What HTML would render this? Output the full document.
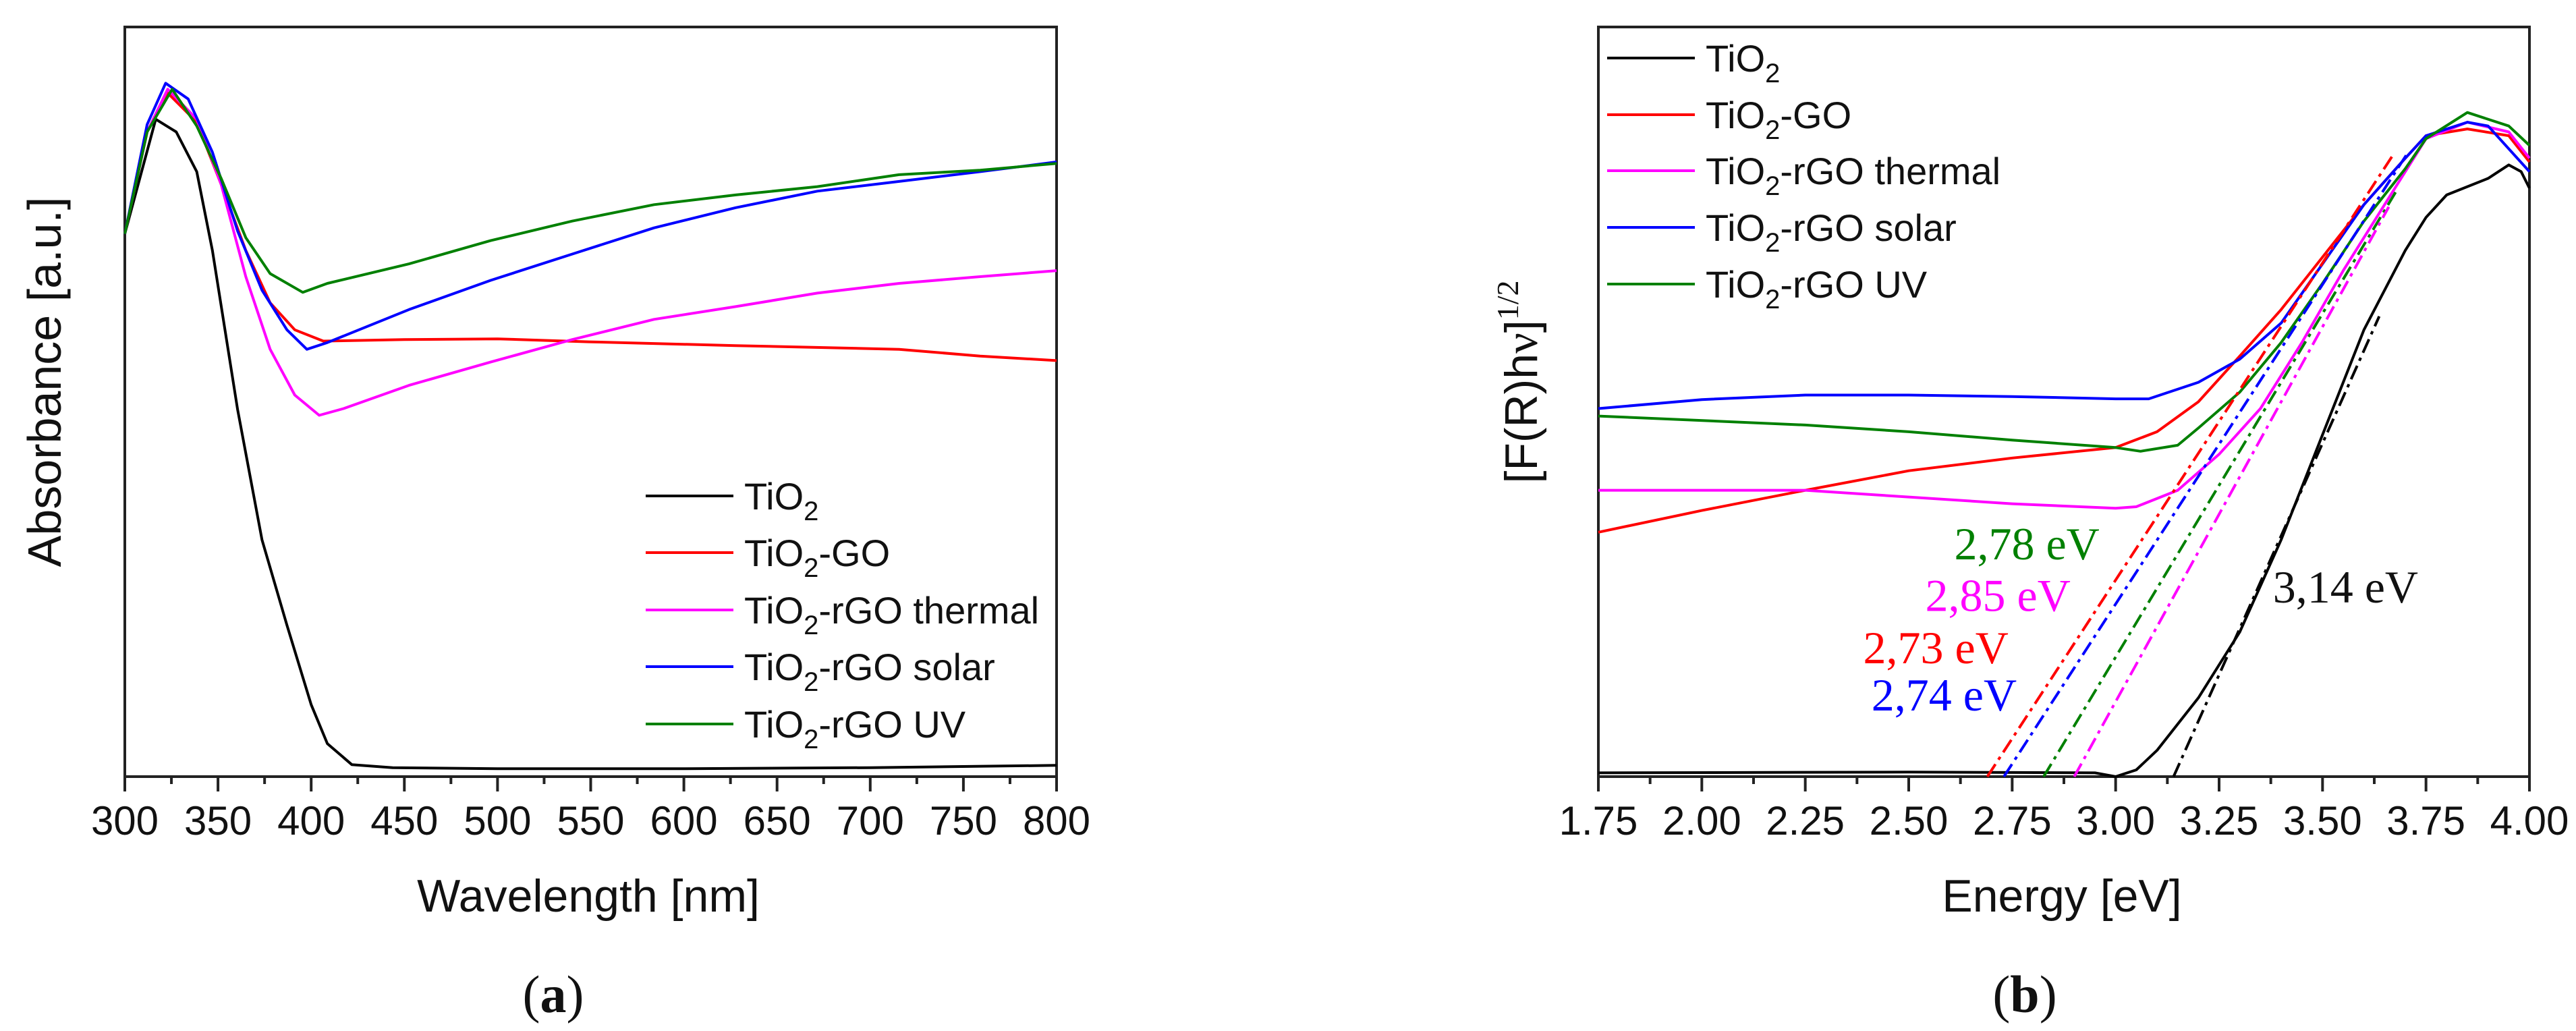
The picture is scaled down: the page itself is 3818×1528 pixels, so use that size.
<!DOCTYPE html>
<html><head><meta charset="utf-8"><style>
html,body{margin:0;padding:0;background:#fff;}
svg{display:block;font-family:"Liberation Sans",Arial,sans-serif;}
</style></head><body>
<svg id="fig" width="3818" height="1528" viewBox="0 0 3818 1528" xmlns="http://www.w3.org/2000/svg"></svg>
<script>
// ---------- Panel (a) data ----------
const aTicks = [300,350,400,450,500,550,600,650,700,750,800];
const aTiO2_x = [300,316.6,327.6,338.6,347,360.5,373.6,387,400,408.7,421.8,443.7,500,600,700,800];
const aTiO2_y = [72.4,87.7,86,80.7,70.2,49,31.6,20.2,9.6,4.4,1.6,1.2,1.05,1.05,1.2,1.5];
const aGO_x = [300,312,323,338.6,351.7,364.9,378,391.2,406.5,450,500,548.9,627.8,715.5,759,800];
const aGO_y = [72.4,86,91.2,87.3,79,70.2,63.2,59.6,58.1,58.3,58.4,58,57.5,57,56.1,55.5];
const aTh_x = [300,312,323,338.6,351.7,364.9,378,391.2,404.3,417.4,452.5,496.3,540,584,627.8,671.6,715.5,759,800];
const aTh_y = [72.4,86,91.7,87.7,79,66.7,57,50.9,48.2,49.1,52.2,55.3,58.3,61,62.7,64.5,65.8,66.7,67.5];
const aSol_x = [300,312,321.9,334,347,360.5,373.6,387,397.7,408.7,452.5,496.3,540,584,627.8,671.6,715.5,759,800];
const aSol_y = [72.4,87,92.5,90.4,83.3,72.8,64.9,59.6,57,57.9,62.3,66.2,69.7,73.2,75.9,78.1,79.4,80.7,82];
const aUV_x = [300,312,325.4,338.6,351.7,364.9,378,395.5,408.7,452.5,496.3,540,584,627.8,671.6,715.5,759,800];
const aUV_y = [72.4,86,91.7,86.8,79.8,71.9,67.1,64.6,65.8,68.4,71.5,74.1,76.3,77.6,78.7,80.3,80.9,81.8];

// ---------- Panel (b) data ----------
const bTicks = [1.75,2.00,2.25,2.50,2.75,3.00,3.25,3.50,3.75,4.00];
const bTiO2_x = [1.75,2.5,2.95,3.0,3.05,3.1,3.2,3.3,3.4,3.5,3.6,3.7,3.75,3.8,3.9,3.95,3.98,4.0];
const bTiO2_y = [0.5,0.6,0.5,0,0.9,3.5,10.5,19.3,31.6,45.6,59.6,70.2,74.6,77.6,79.8,81.6,80.7,78.5];
const bGO_x = [1.75,2.0,2.25,2.5,2.75,3.0,3.1,3.2,3.3,3.4,3.5,3.6,3.7,3.75,3.85,3.95,4.0];
const bGO_y = [32.6,35.5,38.2,40.8,42.5,43.9,46,50,56.1,62.3,69.3,76.3,82.5,85.5,86.4,85.5,82];
const bTh_x = [1.75,2.25,2.5,2.75,3.0,3.05,3.15,3.25,3.35,3.45,3.55,3.65,3.75,3.85,3.95,4.0];
const bTh_y = [38.2,38.2,37.3,36.4,35.8,36,38.2,43,49.1,57.9,67.5,76.3,85.1,87.3,86,82.5];
const bSol_x = [1.75,2.0,2.25,2.5,2.75,3.0,3.08,3.2,3.3,3.4,3.5,3.6,3.7,3.75,3.85,3.9,4.0];
const bSol_y = [49.1,50.3,50.9,50.9,50.7,50.4,50.4,52.6,55.7,60.5,68.4,76.3,82.5,85.5,87.3,86.8,80.7];
const bUV_x = [1.75,2.25,2.5,2.75,3.0,3.06,3.15,3.2,3.3,3.4,3.5,3.6,3.7,3.75,3.85,3.95,4.0];
const bUV_y = [48.1,46.9,46,44.9,43.9,43.4,44.2,46.5,51.3,57.9,65.8,74.1,81.1,85.1,88.6,86.8,84.2];
// tangent lines: [x0,y0,x1,y1]
const tanTiO2 = [3.14,0,3.637,61.4];
const tanGO = [2.69,0,3.67,82.9];
const tanSol = [2.73,0,3.707,83.3];
const tanUV = [2.826,0,3.677,78];
const tanTh = [2.90,0,3.66,76];
const gapLabels = ["2,78 eV","2,85 eV","2,73 eV","2,74 eV","3,14 eV"];
const gapLabelX = [2.61,2.54,2.39,2.41,3.38];
const gapLabelY = [29,22.1,15.1,8.8,23.2];

const NS="http://www.w3.org/2000/svg";
const svg=document.getElementById('fig');
function mk(tag,attrs,parent){const e=document.createElementNS(NS,tag);for(const k in attrs)e.setAttribute(k,attrs[k]);(parent||svg).appendChild(e);return e;}

const A={x0:185,x1:1566,y0:1151,y1:40,xmin:300,xmax:800};
const B={x0:2369,x1:3749,y0:1151,y1:40,xmin:1.75,xmax:4.0};
function sx(P,v){return P.x0+(v-P.xmin)/(P.xmax-P.xmin)*(P.x1-P.x0);}
function sy(P,v){return P.y0-(v/100)*(P.y0-P.y1);}

function drawFrame(P,ticks,fmt,name){
  const g=mk('g',{});
  
  
  mk('rect',{x:P.x0,y:P.y1,width:P.x1-P.x0,height:P.y0-P.y1,fill:'none',stroke:'#222','stroke-width':4},g);
  for(let i=0;i<ticks.length;i++){
    const x=sx(P,ticks[i]);
    mk('line',{x1:x,y1:P.y0,x2:x,y2:P.y0+22,stroke:'#222','stroke-width':4},g);
    if(i<ticks.length-1){const xm=sx(P,(ticks[i]+ticks[i+1])/2);
      mk('line',{x1:xm,y1:P.y0,x2:xm,y2:P.y0+11,stroke:'#222','stroke-width':4},g);}
    const t=mk('text',{x:x,y:1237,'font-size':60,'text-anchor':'middle',fill:'#111'},g);
    t.textContent=fmt(ticks[i]);
    
    
  }
}
function drawLine(P,xs,ys,color,name){
  let d='';for(let i=0;i<xs.length;i++)d+=(i?'L':'M')+sx(P,xs[i]).toFixed(1)+','+sy(P,ys[i]).toFixed(1);
  const p=mk('path',{d:d,fill:'none',stroke:color,'stroke-width':4,'stroke-linejoin':'round'});
  
  
}
function drawTan(P,t,color,name){
  const l=mk('line',{x1:sx(P,t[0]),y1:sy(P,t[1]),x2:sx(P,t[2]),y2:sy(P,t[3]),stroke:color,'stroke-width':4,'stroke-dasharray':'22,8,5,8'});
  
  
}
function legend(x,ys,names,colors,n){
  for(let i=0;i<names.length;i++){
    const g=mk('g',{});
    
    
    mk('line',{x1:x,y1:ys[i],x2:x+130,y2:ys[i],stroke:colors[i],'stroke-width':4},g);
    const t=mk('text',{x:x+146,y:ys[i]+20,'font-size':56,fill:'#111'},g);
    t.innerHTML='TiO<tspan font-size="40" dy="16">2</tspan><tspan dy="-16">'+names[i]+'</tspan>';
  }
}
const cols=['#000','#ff0000','#ff00ff','#0000ff','#008000'];
const lnames=['','-GO','-rGO thermal','-rGO solar','-rGO UV'];
const lkeys=['tio2','tio2-go','tio2-rgo-thermal','tio2-rgo-solar','tio2-rgo-uv'];

drawFrame(A,aTicks,v=>String(v),'panel-a');
drawLine(A,aTiO2_x,aTiO2_y,cols[0],'series-a-tio2');
drawLine(A,aGO_x,aGO_y,cols[1],'series-a-tio2-go');
drawLine(A,aTh_x,aTh_y,cols[2],'series-a-tio2-rgo-thermal');
drawLine(A,aSol_x,aSol_y,cols[3],'series-a-tio2-rgo-solar');
drawLine(A,aUV_x,aUV_y,cols[4],'series-a-tio2-rgo-uv');
legend(957,[735,819,904,988,1073],lnames,cols,lkeys);

drawFrame(B,bTicks,v=>v.toFixed(2),'panel-b');
drawLine(B,bTiO2_x,bTiO2_y,cols[0],'series-b-tio2');
drawLine(B,bGO_x,bGO_y,cols[1],'series-b-tio2-go');
drawLine(B,bTh_x,bTh_y,cols[2],'series-b-tio2-rgo-thermal');
drawLine(B,bSol_x,bSol_y,cols[3],'series-b-tio2-rgo-solar');
drawLine(B,bUV_x,bUV_y,cols[4],'series-b-tio2-rgo-uv');
drawTan(B,tanTiO2,'#000','tangent-tio2');
drawTan(B,tanGO,cols[1],'tangent-tio2-go');
drawTan(B,tanSol,cols[3],'tangent-tio2-rgo-solar');
drawTan(B,tanUV,cols[4],'tangent-tio2-rgo-uv');
drawTan(B,tanTh,cols[2],'tangent-tio2-rgo-thermal');
const labCols=[cols[4],cols[2],cols[1],cols[3],'#111'];
for(let i=0;i<gapLabels.length;i++){
  const t=mk('text',{x:sx(B,gapLabelX[i]),y:sy(B,gapLabelY[i]),'font-size':68,fill:labCols[i],'font-family':'"Liberation Serif",serif'});
  t.textContent=gapLabels[i];
  
  
}
legend(2382,[86,170,253,337,421],lnames,cols,lkeys);
</script>
<div style="position:absolute;left:0;top:0;width:3818px;height:1528px;pointer-events:none;">
<svg width="3818" height="1528" style="position:absolute;left:0;top:0;font-family:'Liberation Sans',Arial,sans-serif;">
<text transform="translate(90,566) rotate(-90)" font-size="70" text-anchor="middle" fill="#111">Absorbance [a.u.]</text>
<text x="872" y="1351" font-size="68" text-anchor="middle" fill="#111">Wavelength [nm]</text>
<text x="820" y="1500" font-size="78" text-anchor="middle" fill="#111" font-family="Liberation Serif,serif">(<tspan font-weight="bold">a</tspan>)</text>
<text transform="translate(2278,566) rotate(-90)" font-size="68" text-anchor="middle" fill="#111">[F(R)h<tspan font-family="Liberation Serif,serif">ν</tspan>]<tspan font-family="Liberation Serif,serif" font-size="46" dy="-28">1/2</tspan></text>
<text x="3056" y="1351" font-size="68" text-anchor="middle" fill="#111">Energy [eV]</text>
<text x="3001" y="1500" font-size="78" text-anchor="middle" fill="#111" font-family="Liberation Serif,serif">(<tspan font-weight="bold">b</tspan>)</text>
</svg></div>
</body></html>
